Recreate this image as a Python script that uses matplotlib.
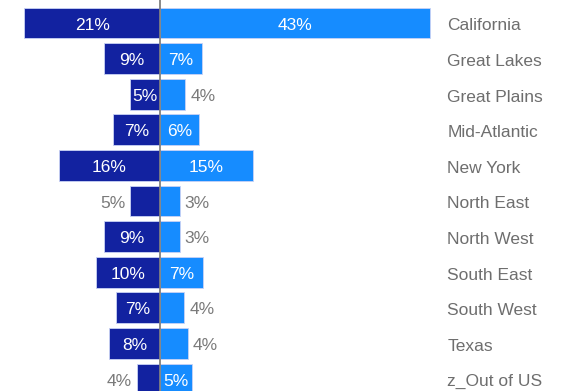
import matplotlib
matplotlib.use("Agg")
import matplotlib.pyplot as plt

plt.rcParams["font.family"] = ["Liberation Sans", "DejaVu Sans"]

regions = ["California", "Great Lakes", "Great Plains", "Mid-Atlantic", "New York",
           "North East", "North West", "South East", "South West", "Texas", "z_Out of US"]
left_pct = [21.4, 8.8, 4.8, 7.4, 16.0, 4.7, 8.9, 10.1, 6.9, 8.1, 3.7]
right_pct = [42.6, 6.6, 4.0, 6.2, 14.6, 3.1, 3.1, 6.7, 3.8, 4.4, 5.0]

DARK = "#1222a0"
LIGHT = "#168cff"
EDGE = "#c9d2f5"
GREY_TXT = "#7a7a7a"
CAT_TXT = "#6e6e6e"
MIN_INSIDE = 4.75   # narrower bars get their label outside

fig = plt.figure(figsize=(5.63, 3.91), dpi=100)
ax = fig.add_axes([0, 0, 1, 1])
ax.set_xlim(-25.24, 63.56)
ax.set_ylim(10.337, -0.646)
ax.axis("off")

ys = range(len(regions))
ax.barh(ys, [-v for v in left_pct], height=0.87, color=DARK, edgecolor=EDGE, linewidth=0.6)
ax.barh(ys, right_pct, height=0.87, color=LIGHT, edgecolor=EDGE, linewidth=0.6)
ax.axvline(0, color="#808080", lw=1.3, zorder=3)

for y, name, lv, rv in zip(ys, regions, left_pct, right_pct):
    ty = y + 0.06
    if lv >= MIN_INSIDE:
        ax.text(-lv / 2, ty, f"{lv:.0f}%", ha="center", va="center", color="white", fontsize=12.5)
    else:
        ax.text(-lv - 0.8, ty, f"{lv:.0f}%", ha="right", va="center", color=GREY_TXT, fontsize=12.5)
    if rv >= MIN_INSIDE:
        ax.text(rv / 2, ty, f"{rv:.0f}%", ha="center", va="center", color="white", fontsize=12.5)
    else:
        ax.text(rv + 0.8, ty, f"{rv:.0f}%", ha="left", va="center", color=GREY_TXT, fontsize=12.5)
    ax.text(45.3, y + 0.08, name, ha="left", va="center", color=CAT_TXT, fontsize=12.5)

fig.savefig("out.png", dpi=100)
